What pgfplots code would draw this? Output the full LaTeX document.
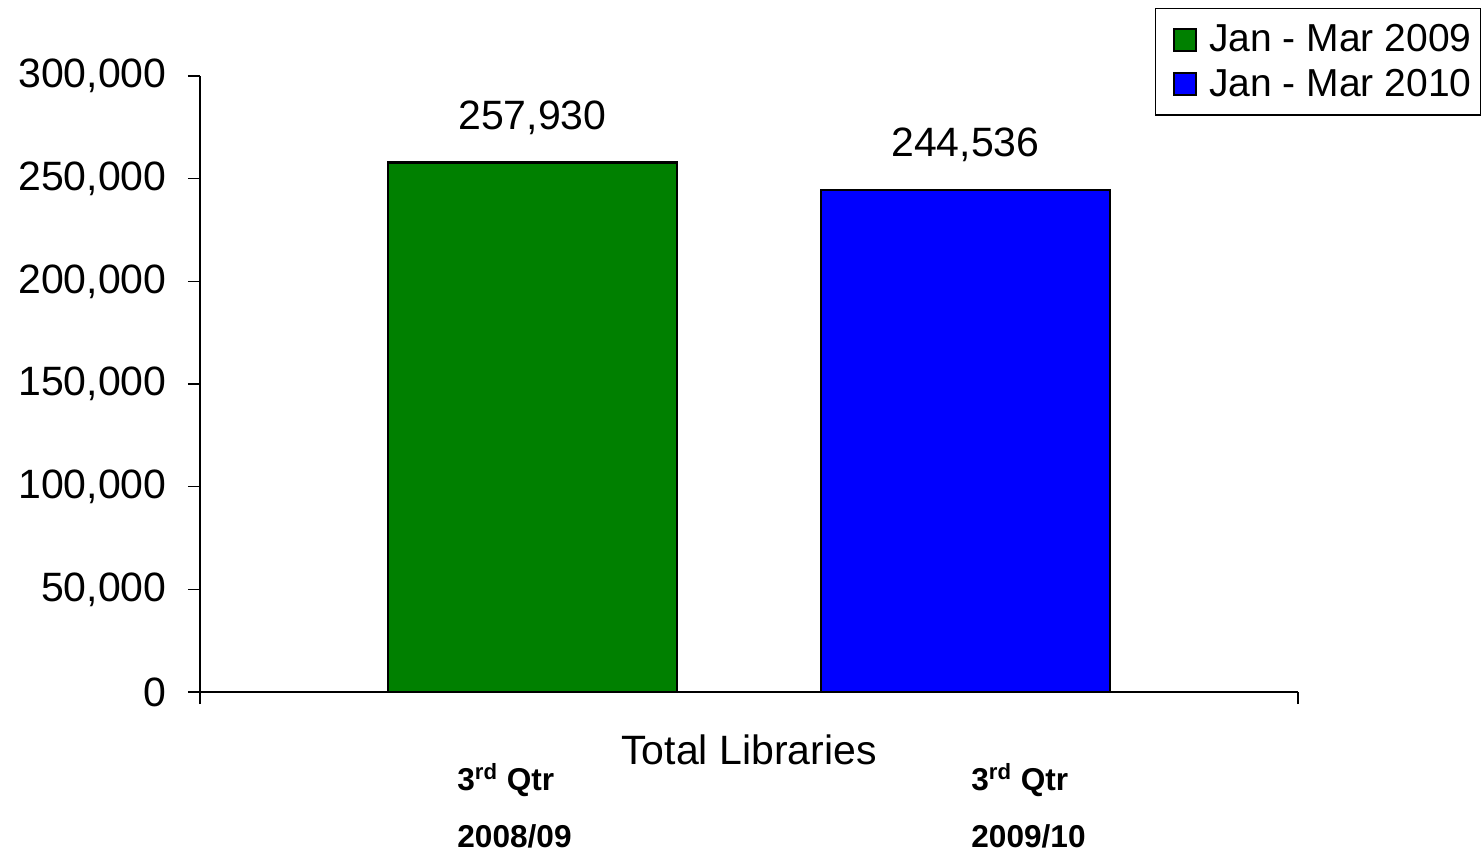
\documentclass[border=0pt]{standalone}
\usepackage{fontspec}
\setmainfont{Liberation Sans}
\usepackage{pgfplots}
\pgfplotsset{compat=1.18}

\definecolor{qgreen}{RGB}{0,128,0}
\definecolor{qblue}{RGB}{0,0,255}

\begin{document}
\begin{tikzpicture}[x=0.5pt,y=0.5pt]
  \begin{axis}[
      at={(0,0)}, anchor=south west,
      scale only axis,
      width=549pt, height=308pt,
      ybar=72pt, bar width=144.5pt,
      xmin=-1, xmax=1,
      ymin=0, ymax=300000,
      axis x line*=bottom, axis y line*=left,
      axis line style={line width=0.6pt},
      tick align=outside,
      major tick length=6pt,
      tick style={line width=0.6pt, black},
      xtick={-1,1}, xticklabels={},
      ytick={0,50000,...,300000},
      scaled y ticks=false,
      /pgf/number format/fixed,
      /pgf/number format/1000 sep={,},
      /pgf/number format/assume math mode=true,
      font=\fontsize{20.5}{24}\selectfont,
      yticklabel style={inner sep=0pt, xshift=-10.5pt},
      xlabel={Total Libraries},
      xlabel style={at={(axis description cs:0.5,0)}, anchor=center, yshift=-29pt},
      nodes near coords,
      every node near coord/.append style={font=\fontsize{20.5}{24}\selectfont, yshift=10pt},
      legend style={at={(1.1667,1.1104)}, anchor=north east, draw=black,
        line width=0.6pt, font=\fontsize{19.5}{22}\selectfont,
        legend cell align=left, row sep=3pt, inner xsep=0pt, inner ysep=6pt,
        nodes={inner xsep=4.5pt}},
      legend image code/.code={%
        \path[draw=none,fill=none] (-9.5pt,0pt) -- (13pt,0pt);
        \draw[#1,draw=black,line width=1.2pt] (0pt,-5.5pt) rectangle (11pt,5.5pt);},
    ]
    \addplot[fill=qgreen, draw=black, line width=1.2pt] coordinates {(0,257930)};
    \addplot[fill=qblue, draw=black, line width=1.2pt] coordinates {(0,244536)};
    \legend{Jan - Mar 2009, Jan - Mar 2010}
  \end{axis}
  \node[anchor=base west, font=\bfseries\fontsize{15.8}{18}\selectfont, inner sep=0pt] at (257,-98) {3\textsuperscript{rd} Qtr};
  \node[anchor=base west, font=\bfseries\fontsize{15.8}{18}\selectfont, inner sep=0pt] at (257,-155) {2008/09};
  \node[anchor=base west, font=\bfseries\fontsize{15.8}{18}\selectfont, inner sep=0pt] at (771,-98) {3\textsuperscript{rd} Qtr};
  \node[anchor=base west, font=\bfseries\fontsize{15.8}{18}\selectfont, inner sep=0pt] at (771,-155) {2009/10};
  \pgfresetboundingbox
  \path[use as bounding box] (-200,-160) rectangle (1283,692);
\end{tikzpicture}
\end{document}
